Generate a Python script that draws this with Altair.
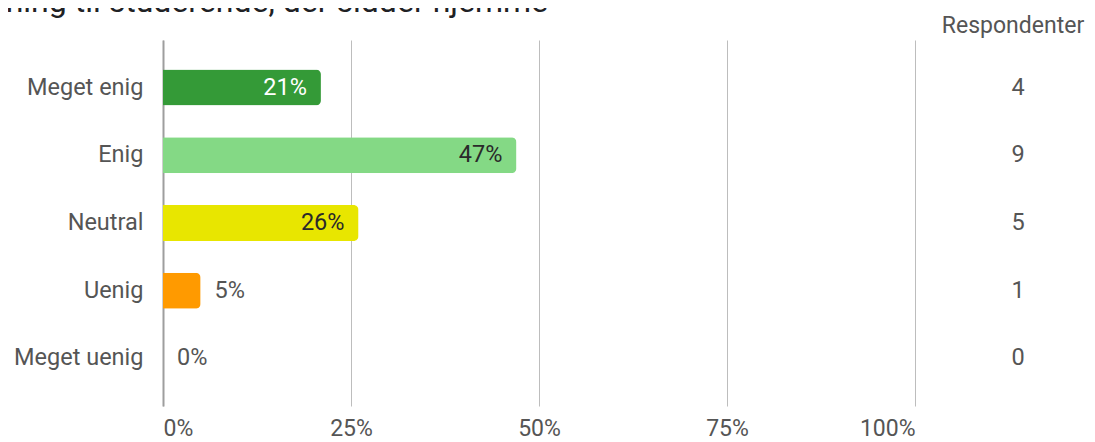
import altair as alt
import pandas as pd

title_text = "undervisning til studerende, der sidder hjemme"
categories = ["Meget enig", "Enig", "Neutral", "Uenig", "Meget uenig"]
pcts = [0.21, 0.47, 0.26, 0.05, 0.00]
counts = [4, 9, 5, 1, 0]
bar_colors = ["#349a37", "#84d985", "#e8e600", "#ff9a00", "#9e9e9e"]
x_ticks = [0, 0.25, 0.5, 0.75, 1.0]
count_header = "Respondenter"

df = pd.DataFrame({"cat": categories, "pct": pcts, "n": counts})

FONT = "Roboto"
GRAY = "#555555"

y_enc = alt.Y(
    "cat:N",
    sort=categories,
    scale=alt.Scale(paddingInner=0.469, paddingOuter=0.4357),
    axis=alt.Axis(
        title=None, domain=True, domainColor="#9e9e9e", domainWidth=2,
        ticks=False, grid=False, labelPadding=20, labelFontSize=23.5,
        labelColor=GRAY, labelFont=FONT,
    ),
)
x_enc = alt.X(
    "pct:Q",
    scale=alt.Scale(domain=[0, 1], nice=False, zero=True),
    axis=alt.Axis(
        title=None, values=x_ticks, format=".0%", labelFlush=True,
        grid=True, gridColor="#bdbdbd", gridWidth=1, domain=False, ticks=False,
        labelFontSize=23, labelColor=GRAY, labelFont=FONT, labelPadding=11,
    ),
)

base = alt.Chart(df)

bars = base.mark_bar(cornerRadiusEnd=5).encode(
    x=x_enc,
    y=y_enc,
    color=alt.Color("cat:N", sort=categories,
                    scale=alt.Scale(domain=categories, range=bar_colors),
                    legend=None),
)

inside = base.transform_filter("datum.pct >= 0.1").mark_text(
    align="right", baseline="middle", dx=-14, fontSize=23.5, font=FONT
).encode(
    x="pct:Q",
    y=alt.Y("cat:N", sort=categories),
    text=alt.Text("pct:Q", format=".0%"),
    color=alt.condition("datum.cat == 'Meget enig'", alt.value("#ffffff"), alt.value("#2a2a2a")),
)

outside = base.transform_filter("datum.pct < 0.1").mark_text(
    align="left", baseline="middle", dx=14, fontSize=23.5, font=FONT, color=GRAY
).encode(
    x="pct:Q",
    y=alt.Y("cat:N", sort=categories),
    text=alt.Text("pct:Q", format=".0%"),
)

resp = base.mark_text(
    align="center", baseline="middle", fontSize=23.5, font=FONT, color=GRAY
).encode(
    x=alt.value(855),
    y=alt.Y("cat:N", sort=categories),
    text="n:Q",
)

header = alt.Chart(pd.DataFrame({"t": [count_header]})).mark_text(
    align="center", baseline="alphabetic", fontSize=23, font=FONT, color=GRAY
).encode(text="t:N", x=alt.value(850), y=alt.value(-7))

title = alt.Chart(pd.DataFrame({"t": [title_text]})).mark_text(
    align="right", baseline="alphabetic", fontSize=32, font=FONT, color="#202124"
).encode(text="t:N", x=alt.value(385), y=alt.value(-28))

chart = alt.layer(bars, inside, outside, resp, header, title).properties(
    width=752,
    height=366,
    padding={"left": 155, "top": 32, "right": 172, "bottom": 36},
    autosize=alt.AutoSizeParams(type="none"),
).configure_view(stroke=None)

chart.save("out.html", embed_options={"renderer": "svg", "actions": False})
